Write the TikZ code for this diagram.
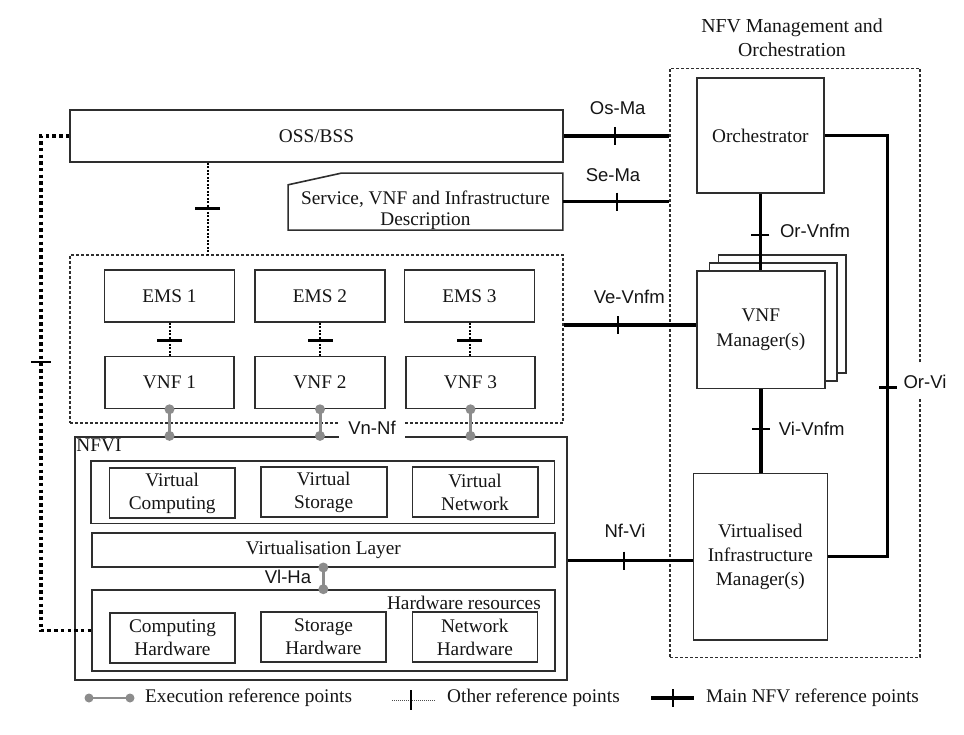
\documentclass[tikz,border=0pt]{standalone}
\usepackage{fontspec}
\setmainfont{Liberation Serif}
\setsansfont{Liberation Sans}
\usetikzlibrary{decorations.markings,calc}
\definecolor{boxc}{HTML}{2E2E2E}
\definecolor{execc}{HTML}{8C8C8C}
\definecolor{txtc}{HTML}{151515}
\newcommand\serffont{\fontsize{19.3}{23}\selectfont}
\newcommand\labfont{\sffamily\fontsize{18.5}{22}\selectfont}
\begin{document}
\begin{tikzpicture}[x=1pt,y=-1pt,
  every node/.style={text=txtc},
  box/.style={draw=boxc, line width=1.6pt, rectangle, inner sep=0pt, align=center, font=\serffont, fill=white},
  dbox/.style={draw=boxc, line width=1.1pt, dash pattern=on 3pt off 2pt, rectangle, inner sep=0pt},
  main/.style={line width=3.6pt, draw=black},
  mtick/.style={postaction={decorate, decoration={markings, mark=at position #1 with {\draw[solid, line width=2.4pt, black] (0,-9) -- (0,9);}}}},
  other/.style={line width=2pt, draw=black, dash pattern=on 2pt off 1.5pt},
  otick/.style={postaction={decorate, decoration={markings, mark=at position #1 with {\draw[solid, line width=3pt, black] (0,-12.5) -- (0,12.5);}}}},
  bigdot/.style={line width=3.5pt, draw=black, dash pattern=on 3.5pt off 3.2pt},
  ttick/.style={postaction={decorate, decoration={markings, mark=at position #1 with {\draw[solid, line width=1.2pt, black] (0,-10) -- (0,10);}}}},
  exec/.style={line width=3pt, draw=execc},
  lbl/.style={font=\labfont, inner sep=1pt},
  txt/.style={font=\serffont, inner sep=0pt, align=center}
]
\useasboundingbox (0,0) rectangle (964,735);

% ---------- left side ----------
\node[box, minimum width=493, minimum height=52] (oss) at (316.5,136) {OSS/BSS};

\node[inner sep=0pt, minimum width=274.4, minimum height=56.7] (desc) at (425.5,201.65) {};
\draw[draw=boxc, line width=1.6pt, fill=white] (desc.south west) -- ([yshift=-11.7pt]desc.north west) -- ([xshift=53.4pt]desc.north west) -- (desc.north east) -- (desc.south east) -- cycle;
\node[txt, font=\fontsize{19.3}{21.4}\selectfont] (desctext) at ($(desc.center)+(0,8.5)$) {Service, VNF and Infrastructure\\Description};

\node[dbox, minimum width=493, minimum height=168] (vnfdom) at (316.5,339) {};

\node[box, minimum width=130, minimum height=52] (ems1) at (169.5,296) {EMS 1};
\node[box, minimum width=130, minimum height=52] (ems2) at (320,296) {EMS 2};
\node[box, minimum width=130, minimum height=52] (ems3) at (469.5,296) {EMS 3};
\node[box, minimum width=129.5, minimum height=52] (vnf1) at (169.5,382.5) {VNF 1};
\node[box, minimum width=129.5, minimum height=52] (vnf2) at (320,382.5) {VNF 2};
\node[box, minimum width=129.5, minimum height=52] (vnf3) at (470.5,382.5) {VNF 3};

\node[box, minimum width=491.7, minimum height=243.3] (nfvi) at (320.85,558.35) {};
\node[anchor=north west, inner sep=0pt, font=\serffont] (nfvilbl) at ($(nfvi.north west)+(2,3)$) {NFVI};

\node[box, minimum width=463.5, minimum height=62.6] (vrow) at (322.75,492) {};
\node[box, minimum width=125.7, minimum height=50] (vc) at (172.2,493) {Virtual\\Computing};
\node[box, minimum width=126, minimum height=50] (vs) at (323.7,492) {Virtual\\Storage};
\node[box, minimum width=125.4, minimum height=50] (vn) at (475,492) {Virtual\\Network};

\node[box, minimum width=463.3, minimum height=34] (vl) at (323.35,549.7) {Virtualisation Layer};

\node[box, minimum width=463.3, minimum height=81] (hw) at (323.35,630.5) {};
\node[anchor=east, inner sep=0pt, font=\serffont] (hwlbl) at (541,603) {Hardware resources};
\node[box, minimum width=125, minimum height=50] (ch) at (172.5,638) {Computing\\Hardware};
\node[box, minimum width=125, minimum height=50] (sh) at (323.5,637) {Storage\\Hardware};
\node[box, minimum width=125, minimum height=50] (nh) at (474.8,637) {Network\\Hardware};

% ---------- MANO ----------
\node[dbox, minimum width=250, minimum height=589] (mano) at (795,362.8) {};
\node[txt, font=\fontsize{19.8}{24}\selectfont] (manotitle) at (792,38) {NFV Management and\\Orchestration};
\node[box, minimum width=127.3, minimum height=114.7] (orch) at (760.35,135.65) {Orchestrator};
\node[box, minimum width=127.4, minimum height=117.7] (vnfmback) at (782,313.85) {};
\node[box, minimum width=127.4, minimum height=117.7] (vnfmmid) at (773,322.15) {};
\node[box, minimum width=128.3, minimum height=117.3, font=\fontsize{19.3}{25.7}\selectfont] (vnfm) at (760.85,329.65) {VNF\\Manager(s)};
\node[box, minimum width=134, minimum height=166.7, font=\fontsize{19.3}{24}\selectfont] (vim) at (760.3,556.65) {Virtualised\\Infrastructure\\Manager(s)};

% ---------- main reference points ----------
\draw[main, mtick=51pt] (oss.east) -- (oss.east -| mano.west);
\draw[main, mtick=54pt] (desc.east) -- (desc.east -| mano.west);
\draw[main, mtick=54.6pt] ([yshift=4.6pt]vnfm.west -| vnfdom.east) -- ([yshift=4.6pt]vnfm.west);
\draw[main, mtick=56.6pt] ([yshift=-4pt]vim.west -| nfvi.east) -- ([yshift=-4pt]vim.west);
\draw[main, mtick=41.3pt] (orch.south) -- (orch.south |- vnfm.north);
\draw[main, mtick=39.7pt] (vnfm.south) -- (vnfm.south |- vim.north);
\draw[main, mtick=314.4pt] (orch.east) -- ++(62.7,0) |- (vim.east);

% ---------- other reference points ----------
\draw[other, otick=46pt] ($(oss.south west)!0.28!(oss.south east)$) coordinate (od) -- (od |- vnfdom.north);
\draw[other, otick=18pt] (ems1.south) -- (ems1.south |- vnf1.north);
\draw[other, otick=18pt] (ems2.south) -- (ems2.south |- vnf2.north);
\draw[other, otick=18pt] (ems3.south) -- (ems3.south |- vnf3.north);
\draw[bigdot, ttick=254.3pt] (oss.west) -- ++(-28.3,0) |- (hw.west);

% ---------- execution reference points ----------
\foreach \v in {vnf1,vnf2,vnf3}{
  \draw[exec] (\v.south) -- (\v.south |- nfvi.north);
  \fill[execc] (\v.south) circle[radius=5];
  \fill[execc] (\v.south |- nfvi.north) circle[radius=5];
}
\draw[exec] (vl.south) -- (vl.south |- hw.north);
\fill[execc] (vl.south) circle[radius=5];
\fill[execc] (vl.south |- hw.north) circle[radius=5];

% ---------- labels ----------
\node[lbl] (losma) at (617.7,108) {Os-Ma};
\node[lbl] (lsema) at (613,175) {Se-Ma};
\node[lbl] (lvevnfm) at (629.3,297.3) {Ve-Vnfm};
\node[lbl] (lorvnfm) at (815,231) {Or-Vnfm};
\node[lbl] (lvivnfm) at (811.7,428.3) {Vi-Vnfm};
\node[lbl, fill=white, minimum height=35] (lorvi) at (925,381.7) {Or-Vi};
\node[lbl] (lnfvi) at (625,530.7) {Nf-Vi};
\node[lbl, fill=white, inner xsep=9pt, minimum height=26] (lvnnf) at (372,428) {Vn-Nf};
\node[lbl] (lvlha) at (288,577.3) {Vl-Ha};

% ---------- legend ----------
\coordinate (l1a) at (89,698);
\coordinate (l1b) at (130,698);
\draw[exec, line width=2.5pt] (l1a) -- (l1b);
\fill[execc] (l1a) circle[radius=4.5];
\fill[execc] (l1b) circle[radius=4.5];
\node[anchor=west, inner sep=0pt, font=\serffont] (lt1) at (145,698) {Execution reference points};
\coordinate (l2a) at (392,700);
\coordinate (l2b) at (435,700);
\draw[line width=1pt, dash pattern=on 1pt off 1pt, draw=black!70, ttick=19pt] (l2a) -- (l2b);
\node[anchor=west, inner sep=0pt, font=\serffont] (lt2) at (447,698) {Other reference points};
\coordinate (l3a) at (651,698);
\coordinate (l3b) at (694,698);
\draw[main, mtick=22pt] (l3a) -- (l3b);
\node[anchor=west, inner sep=0pt, font=\serffont] (lt3) at (706,698) {Main NFV reference points};
\end{tikzpicture}
\end{document}
